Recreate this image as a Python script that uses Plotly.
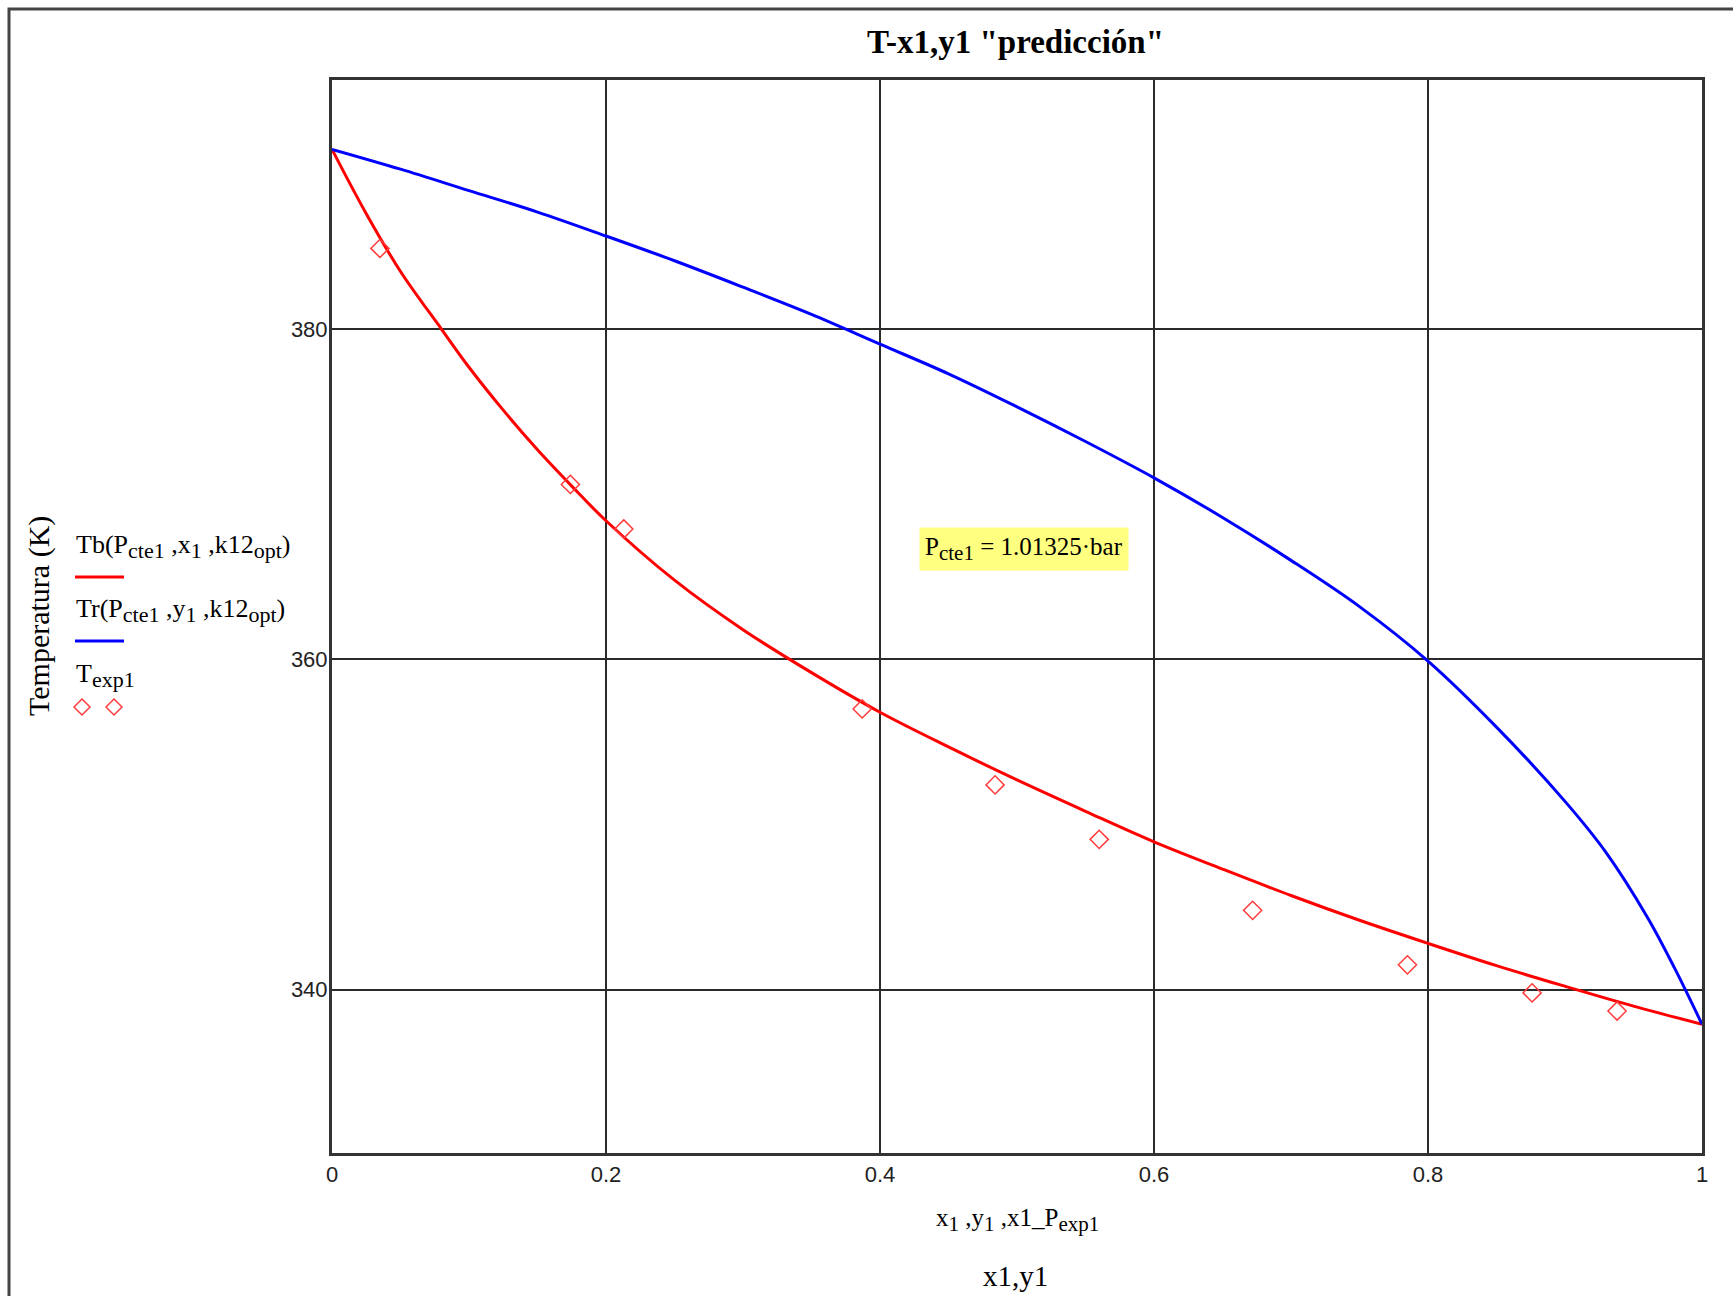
import plotly.graph_objects as go

# ---- data ----
x_bub = [0, 0.025, 0.05, 0.08, 0.10, 0.125, 0.15, 0.175, 0.20, 0.25, 0.30, 0.35, 0.40, 0.45,
         0.50, 0.55, 0.60, 0.65, 0.70, 0.75, 0.80, 0.85, 0.90, 0.95, 1.00]
T_bub = [390.9, 387.0, 383.5, 380.0, 377.7, 375.1, 372.7, 370.5, 368.4, 364.8, 361.8, 359.2,
         356.8, 354.7, 352.7, 350.8, 348.95, 347.3, 345.7, 344.2, 342.8, 341.45, 340.2, 339.0, 337.9]

y_dew = [0, 0.05, 0.10, 0.15, 0.20, 0.25, 0.30, 0.35, 0.40, 0.45, 0.50, 0.55, 0.60,
         0.65, 0.70, 0.75, 0.80, 0.85, 0.90, 0.93, 0.96, 0.98, 1.00]
T_dew = [390.9, 389.7, 388.4, 387.1, 385.65, 384.15, 382.55, 380.9, 379.1, 377.3, 375.3,
         373.2, 371.0, 368.6, 366.0, 363.2, 359.9, 355.9, 351.4, 348.3, 344.4, 341.3, 337.9]

x_exp = [0.035, 0.174, 0.213, 0.387, 0.484, 0.560, 0.672, 0.785, 0.876, 0.938]
T_exp = [384.9, 370.6, 367.9, 357.0, 352.4, 349.1, 344.8, 341.5, 339.8, 338.7]

x_ticks = [0, 0.2, 0.4, 0.6, 0.8, 1]
x_ticklabels = ["0", "0.2", "0.4", "0.6", "0.8", "1"]
y_ticks = [340, 360, 380]
y_ticklabels = ["340", "360", "380"]

SERIF = "Liberation Serif"
SANS = "Liberation Sans"
EXP_COLOR = "#ff3b3b"

fig = go.Figure()
fig.add_trace(go.Scatter(x=x_bub, y=T_bub, mode="lines", line=dict(color="#ff0000", width=3),
                         line_shape="spline", showlegend=False))
fig.add_trace(go.Scatter(x=y_dew, y=T_dew, mode="lines", line=dict(color="#0000ff", width=3),
                         line_shape="spline", showlegend=False))
fig.add_trace(go.Scatter(x=x_exp, y=T_exp, mode="markers",
                         marker=dict(symbol="diamond-open", size=14, color=EXP_COLOR,
                                     line=dict(width=1.5, color=EXP_COLOR)),
                         showlegend=False))

L, R, T, B = 332, 31, 80, 143
W, H = 1733, 1296
pw, ph = W - L - R, H - T - B


def px(x):
    return (x - L) / pw


def py(y):
    return (H - B - y) / ph


def sub(s, size):
    return '<sub><span style="font-size:%dpx">%s</span></sub>' % (size, s)


def ann(text, x, y, size, xanchor="center", **kw):
    return dict(text=text, x=px(x), y=py(y), xref="paper", yref="paper", showarrow=False,
                xanchor=xanchor, yanchor="middle",
                font=dict(family=SERIF, size=size, color="#000"), **kw)


annotations = [
    ann('<b>T-x1,y1 "predicción"</b>', 1015, 42, 33),
    ann("Temperatura (K)", 39, 616, 30, textangle=-90),
    ann("Tb(P" + sub("cte1", 22) + " ,x" + sub("1", 22) + " ,k12" + sub("opt", 22) + ")",
        74, 546, 26, xanchor="left"),
    ann("Tr(P" + sub("cte1", 22) + " ,y" + sub("1", 22) + " ,k12" + sub("opt", 22) + ")",
        74, 610, 26, xanchor="left"),
    ann("T" + sub("exp1", 22), 74, 675, 26, xanchor="left"),
    ann("x" + sub("1", 21) + " ,y" + sub("1", 21) + " ,x1_P" + sub("exp1", 21), 1017, 1220, 25),
    ann("x1,y1", 1015, 1276, 29),
    ann("P" + sub("cte1", 21) + " = 1.01325·bar", 1024, 549, 25, bgcolor="#ffff80", borderpad=5),
]


def diamond(cx, cy, r=8):
    dx, dy = r / pw, r / ph
    x, y = px(cx), py(cy)
    return "M %f,%f L %f,%f L %f,%f L %f,%f Z" % (x - dx, y, x, y + dy, x + dx, y, x, y - dy)


shapes = [
    # outer frame
    dict(type="rect", xref="paper", yref="paper", x0=px(9), x1=px(1760), y0=py(1320), y1=py(9),
         line=dict(color="#444", width=3), layer="below"),
    # legend samples
    dict(type="line", xref="paper", yref="paper", x0=px(75), x1=px(124), y0=py(577), y1=py(577),
         line=dict(color="#ff0000", width=3)),
    dict(type="line", xref="paper", yref="paper", x0=px(75), x1=px(124), y0=py(641), y1=py(641),
         line=dict(color="#0000ff", width=3)),
    dict(type="path", xref="paper", yref="paper", path=diamond(82, 707),
         line=dict(color=EXP_COLOR, width=1.5)),
    dict(type="path", xref="paper", yref="paper", path=diamond(114, 707),
         line=dict(color=EXP_COLOR, width=1.5)),
]

fig.update_layout(
    width=W, height=H,
    margin=dict(l=L, r=R, t=T, b=B),
    paper_bgcolor="white", plot_bgcolor="white",
    showlegend=False,
    annotations=annotations, shapes=shapes,
    xaxis=dict(range=[0, 1], tickvals=x_ticks, ticktext=x_ticklabels, showgrid=True,
               gridcolor="#2a2a2a", gridwidth=2, zeroline=False, showline=True, linecolor="#333",
               linewidth=3, mirror=True, ticks="", ticklabelstandoff=0,
               tickfont=dict(family=SANS, size=22, color="#222")),
    yaxis=dict(range=[330.1, 395.1], tickvals=y_ticks, ticktext=y_ticklabels, showgrid=True,
               gridcolor="#2a2a2a", gridwidth=2, zeroline=False, showline=True, linecolor="#333",
               linewidth=3, mirror=True, ticks="", ticklabelstandoff=-3,
               tickfont=dict(family=SANS, size=22, color="#222")),
)

fig.write_html("out.html")
